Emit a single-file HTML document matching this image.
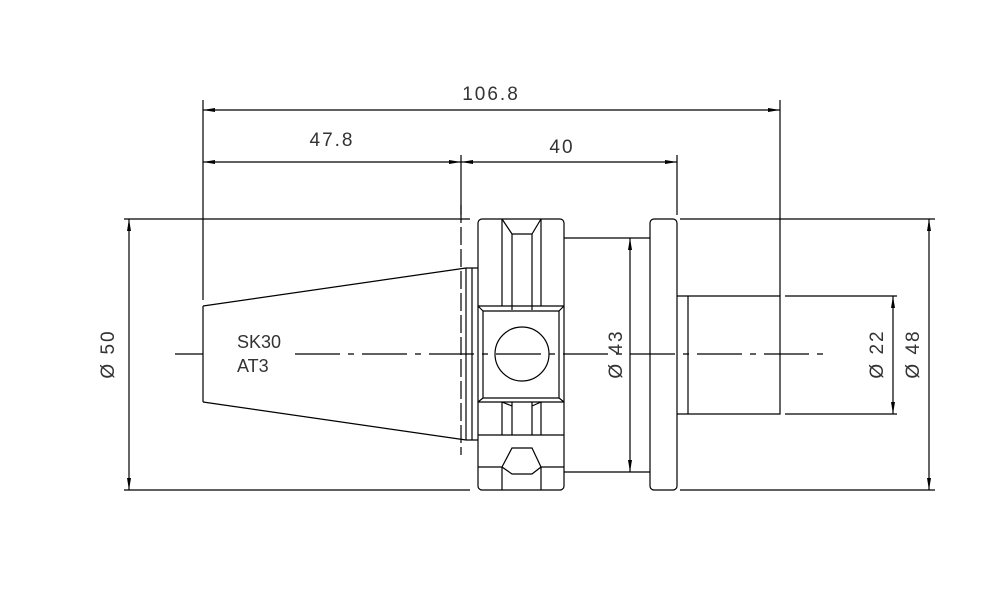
<!DOCTYPE html>
<html><head><style>html,body{margin:0;padding:0;background:#fff}svg{display:block}</style></head>
<body>
<svg width="1002" height="607" viewBox="0 0 1002 607" xmlns="http://www.w3.org/2000/svg">
<defs>
<marker id="a" viewBox="0 0 12 4" refX="12" refY="2" markerWidth="12" markerHeight="4" orient="auto-start-reverse" markerUnits="userSpaceOnUse"><path d="M0,0 L12,2 L0,4 z" fill="#000"/></marker>
</defs>
<g stroke="#000" stroke-width="1.2" fill="none">
<path d="M203,100V300 M780,100V296 M461,155V215 M677,155V215"/>
<path d="M124,219H470 M124,490H470 M680,219H935 M680,490H935 M785,296H897 M785,414H897"/>
</g>
<g stroke="#000" stroke-width="1.2" fill="none" marker-start="url(#a)" marker-end="url(#a)">
<path d="M203,110H780"/>
<path d="M203,162H461"/>
<path d="M461,162H677"/>
<path d="M129,219V490"/>
<path d="M929,219V490"/>
<path d="M893,296V414"/>
<path d="M630,238V472"/>
</g>
<g stroke="#000" stroke-width="1.2" fill="none">
<path d="M203,306V402 M203,306L466,268 M203,402L466,440 M466,268V440 M472,268V440 M466,268H478 M466,440H478"/>
<rect x="478" y="219" width="86" height="271" rx="4"/>
<path d="M478,306H564 M478,402H564 M478,435H564 M478,467H502 M541,467H564"/>
<path d="M502,219L512,234H532L541,219 M502,219V306 M541,219V306 M512,234V310 M532,234V310"/>
<path d="M483,311H559V398H483Z M478,306L483,311 M564,306L559,311 M478,402L483,398 M564,402L559,398"/>
<path d="M502,402V435 M512,402V435 M532,402V435 M541,402V435 M502,402L512,406 M541,402L532,406"/>
<path d="M502,490V467L512,448H532L541,467V490 M502,467L512,474H532L541,467"/>
<circle cx="522" cy="354" r="27"/>
<path d="M564,238H650 M564,472H650"/>
<rect x="650" y="219" width="27" height="271" rx="4"/>
<path d="M677,296H780V414H677 M688,296V414"/>
</g>
<g stroke="#000" stroke-width="1.2" fill="none">
<path d="M461,205V455" stroke-dasharray="18,4"/>
<path d="M175,354H203 M295,354H828" stroke-dasharray="45,8,6,8"/>
</g>
<g font-family="Liberation Sans, sans-serif" font-size="19" fill="#333" letter-spacing="2">
<text x="491" y="100" text-anchor="middle">106.8</text>
<text x="332" y="146" text-anchor="middle">47.8</text>
<text x="562" y="153" text-anchor="middle">40</text>
<text x="237" y="348" font-size="18" letter-spacing="0">SK30</text>
<text x="237" y="372" font-size="18" letter-spacing="0">AT3</text>
<text transform="translate(114,354) rotate(-90)" text-anchor="middle">Ø 50</text>
<text transform="translate(622,354) rotate(-90)" text-anchor="middle">Ø 43</text>
<text transform="translate(883,354) rotate(-90)" text-anchor="middle">Ø 22</text>
<text transform="translate(919,354) rotate(-90)" text-anchor="middle">Ø 48</text>
</g>
</svg>
</body></html>
